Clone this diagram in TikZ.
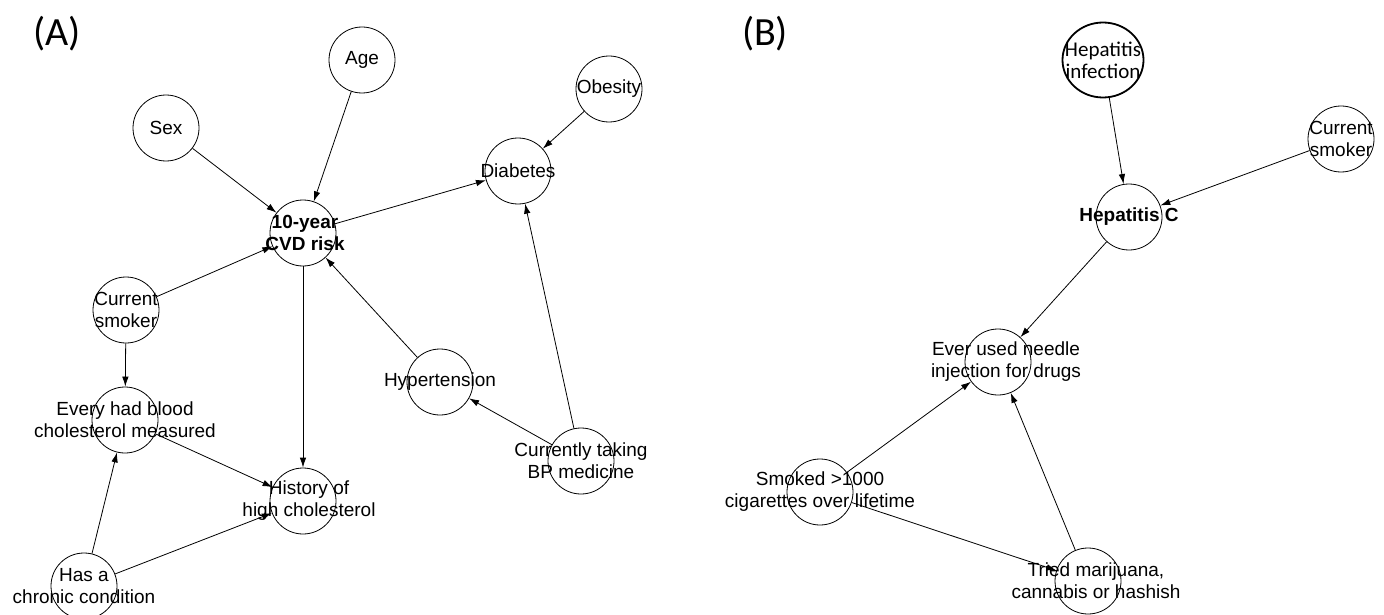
\documentclass[tikz,border=0pt]{standalone}
\usepackage{fontspec}
\setmainfont{Liberation Sans}
\newfontfamily\calib{Carlito}
\usetikzlibrary{arrows.meta,shapes.geometric}
\begin{document}
\begin{tikzpicture}[x=1pt,y=-1pt,
  nd/.style={circle, draw, line width=0.8pt, minimum size=66pt, inner sep=0pt},
  bignd/.style={ellipse, draw, line width=1.8pt, minimum width=81pt, minimum height=75pt, inner sep=0pt},
  lbl/.style={font=\fontsize{19}{22}\selectfont, align=center, inner sep=0pt},
  blbl/.style={lbl, font=\fontsize{19}{22}\selectfont\bfseries},
  clbl/.style={lbl, font=\calib\fontsize{21}{22}\selectfont},
  panel/.style={font=\calib\fontsize{40}{44}\selectfont, inner sep=0pt},
  arr/.style={-{Latex[length=10pt,width=6.5pt]}, line width=0.8pt}]
\useasboundingbox (0,0) rectangle (1384,615);
% panel labels
\node[panel] (pa) at (57,34) {(A)};
\node[panel] (pb) at (765,34) {(B)};
% ---------- panel A ----------
\node[nd, label={[lbl]center:Age}] (age) at (362,60) {};
\node[nd, label={[lbl]center:Sex}] (sex) at (166,128) {};
\node[nd, label={[lbl]center:Obesity}] (obes) at (609,89) {};
\node[nd, label={[lbl]center:Diabetes}] (diab) at (518,171) {};
\node[nd, label={[blbl,xshift=2pt]center:10-year\\CVD risk}] (cvd) at (303,233) {};
\node[nd, label={[lbl]center:Current\\smoker}] (smka) at (126,310) {};
\node[nd, label={[lbl]center:Hypertension}] (hyp) at (440,382) {};
\node[nd, label={[lbl]center:Every had blood\\cholesterol measured}] (blood) at (125,420) {};
\node[nd, label={[lbl,xshift=6pt]center:History of\\high cholesterol}] (hist) at (303,501) {};
\node[nd, label={[lbl]center:Currently taking\\BP medicine}] (bp) at (581,461) {};
\node[nd, label={[lbl]center:Has a\\chronic condition}] (chron) at (84,586) {};
\draw[arr] (sex) -- (cvd);
\draw[arr] (age) -- (cvd);
\draw[arr] (cvd) -- (diab);
\draw[arr] (obes) -- (diab);
\draw[arr] (smka) -- (cvd);
\draw[arr] (cvd) -- (hist);
\draw[arr] (hyp) -- (cvd);
\draw[arr] (bp) -- (diab);
\draw[arr] (bp) -- (hyp);
\draw[arr] (smka) -- (blood);
\draw[arr] (blood) -- (hist);
\draw[arr] (chron) -- (blood);
\draw[arr] (chron) -- (hist);
% ---------- panel B ----------
\node[bignd, label={[clbl]center:Hepatitis\\infection}] (hinf) at (1103,60) {};
\node[nd, label={[lbl]center:Current\\smoker}] (smkb) at (1341,139) {};
\node[nd, label={[blbl]center:Hepatitis C}] (hepc) at (1129,217) {};
\node[nd, label={[lbl,xshift=8pt]center:Ever used needle\\injection for drugs}] (needle) at (998,362) {};
\node[nd, label={[lbl]center:Smoked >1000\\cigarettes over lifetime}] (smoked) at (820,492) {};
\node[nd, label={[lbl,xshift=8pt]center:Tried marijuana,\\cannabis or hashish}] (tried) at (1088,581) {};
\draw[arr] (hinf) -- (hepc);
\draw[arr] (smkb) -- (hepc);
\draw[arr] (hepc) -- (needle);
\draw[arr] (smoked) -- (needle);
\draw[arr] (tried) -- (needle);
\draw[arr] (smoked) -- (tried);
\end{tikzpicture}
\end{document}
